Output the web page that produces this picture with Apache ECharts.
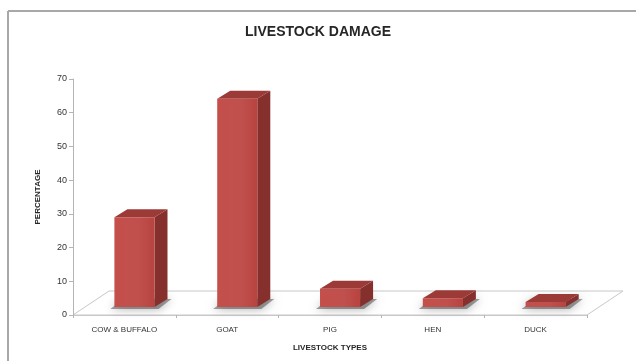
<!DOCTYPE html>
<html>
<head>
<meta charset="utf-8">
<script src="https://cdn.jsdelivr.net/npm/echarts@6/dist/echarts.min.js"></script>
<style>
  html, body { margin: 0; padding: 0; background: #fff; }
  #chart { width: 636px; height: 361px; }
</style>
</head>
<body>
<div id="chart"></div>
<script>
// data
const categories = ['COW & BUFFALO', 'GOAT', 'PIG', 'HEN', 'DUCK']
const damagePct = [26.6, 61.8, 5.4, 2.6, 1.5]
const yTicks = { min: 0, max: 70, interval: 10 }

// colours (excel-ish red 3d bars)
const COLORS = {
  front: '#c0504d',
  top: '#9c3a37',
  side: '#86302d',
  floor: '#c8c8c8',
  axis: '#b4b4b4',
  text: '#333333',
}

const FONT = 'Liberation Sans'

// depth offsets in px
const FLOOR_DX = 36, FLOOR_DY = -24
const BAR_DX = 13, BAR_DY = -8
const BAR_SHIFT_X = -10, BAR_SHIFT_Y = -8

const chart = echarts.init(document.getElementById('chart'), null, { renderer: 'canvas' })

const renderFloor = (params, api) => {
  const band = api.size([1, 0])[0]
  const p0 = api.coord([0, 0])
  const pN = api.coord([categories.length - 1, 0])
  const x0 = p0[0] - band / 2
  const x1 = pN[0] + band / 2
  const y = p0[1]
  return {
    type: 'polygon',
    shape: { points: [[x0, y], [x1, y], [x1 + FLOOR_DX, y + FLOOR_DY], [x0 + FLOOR_DX, y + FLOOR_DY]] },
    style: { fill: '#fff', stroke: COLORS.floor, lineWidth: 1 },
    silent: true,
  }
}

const renderBar = (params, api) => {
  const idx = api.value(0)
  const val = api.value(1)
  const band = api.size([1, 0])[0]
  const base = api.coord([idx, 0])
  const topPt = api.coord([idx, val])
  const w = band * 0.39
  const xl = base[0] + BAR_SHIFT_X
  const xr = xl + w
  const yb = base[1] + BAR_SHIFT_Y
  const yt = topPt[1] + BAR_SHIFT_Y
  return {
    type: 'group',
    children: [
      {
        // soft shadow on the floor
        type: 'polygon',
        shape: { points: [[xl - 4, yb + 2], [xr + 4, yb + 2], [xr + BAR_DX + 4, yb + BAR_DY], [xl + BAR_DX - 4, yb + BAR_DY]] },
        style: { fill: 'rgba(80,80,80,0.55)', shadowBlur: 10, shadowColor: 'rgba(0,0,0,0.6)' },
      },
      {
        type: 'polygon',
        shape: { points: [[xr, yb], [xr + BAR_DX, yb + BAR_DY], [xr + BAR_DX, yt + BAR_DY], [xr, yt]] },
        style: { fill: COLORS.side },
      },
      {
        type: 'polygon',
        shape: { points: [[xl, yt], [xr, yt], [xr + BAR_DX, yt + BAR_DY], [xl + BAR_DX, yt + BAR_DY]] },
        style: { fill: COLORS.top },
      },
      {
        type: 'rect',
        shape: { x: xl, y: yt, width: w, height: yb - yt },
        style: {
          fill: new echarts.graphic.LinearGradient(0, 0, 1, 0, [
            { offset: 0, color: '#c44f4b' },
            { offset: 0.6, color: '#c0504d' },
            { offset: 1, color: '#b8433f' },
          ]),
        },
      },
    ],
  }
}

chart.setOption({
  animation: false,
  backgroundColor: '#fff',
  title: {
    text: 'LIVESTOCK DAMAGE',
    left: 'center',
    top: 20,
    textStyle: { fontFamily: FONT, fontSize: 14, fontWeight: 'bold', color: '#262626' },
  },
  graphic: [
    { type: 'line', shape: { x1: 8, y1: 11, x2: 636, y2: 11 }, style: { stroke: '#a8a8a8', lineWidth: 2 }, silent: true },
    { type: 'line', shape: { x1: 8, y1: 11, x2: 8, y2: 361 }, style: { stroke: '#a8a8a8', lineWidth: 2 }, silent: true },
  ],
  grid: { left: 73, right: 49, top: 79, bottom: 46 },
  xAxis: {
    type: 'category',
    data: categories,
    boundaryGap: true,
    name: 'LIVESTOCK TYPES',
    nameLocation: 'middle',
    nameGap: 29,
    nameTextStyle: { fontFamily: FONT, fontSize: 8, fontWeight: 'bold', color: '#262626' },
    axisLine: { show: true, lineStyle: { color: COLORS.floor } },
    axisTick: { show: true, length: 3, lineStyle: { color: COLORS.axis } },
    axisLabel: { margin: 11, fontFamily: FONT, fontSize: 8, color: COLORS.text },
    splitLine: { show: false },
    z: 1,
  },
  yAxis: {
    type: 'value',
    min: yTicks.min,
    max: yTicks.max,
    interval: yTicks.interval,
    name: 'PERCENTAGE',
    nameLocation: 'middle',
    nameGap: 31,
    nameTextStyle: { fontFamily: FONT, fontSize: 8, fontWeight: 'bold', color: '#262626' },
    axisLine: { show: true, lineStyle: { color: COLORS.axis } },
    axisTick: { show: true, length: 4, lineStyle: { color: COLORS.axis } },
    axisLabel: { margin: 6, fontFamily: FONT, fontSize: 9, color: COLORS.text },
    splitLine: { show: false },
  },
  series: [
    {
      name: 'floor',
      type: 'custom',
      renderItem: renderFloor,
      data: [[0, 0]],
      silent: true,
      z: 0,
    },
    {
      name: 'damage',
      type: 'custom',
      renderItem: renderBar,
      data: damagePct.map((v, i) => [i, v]),
      encode: { x: 0, y: 1 },
      z: 2,
    },
  ],
})
</script>
</body>
</html>
